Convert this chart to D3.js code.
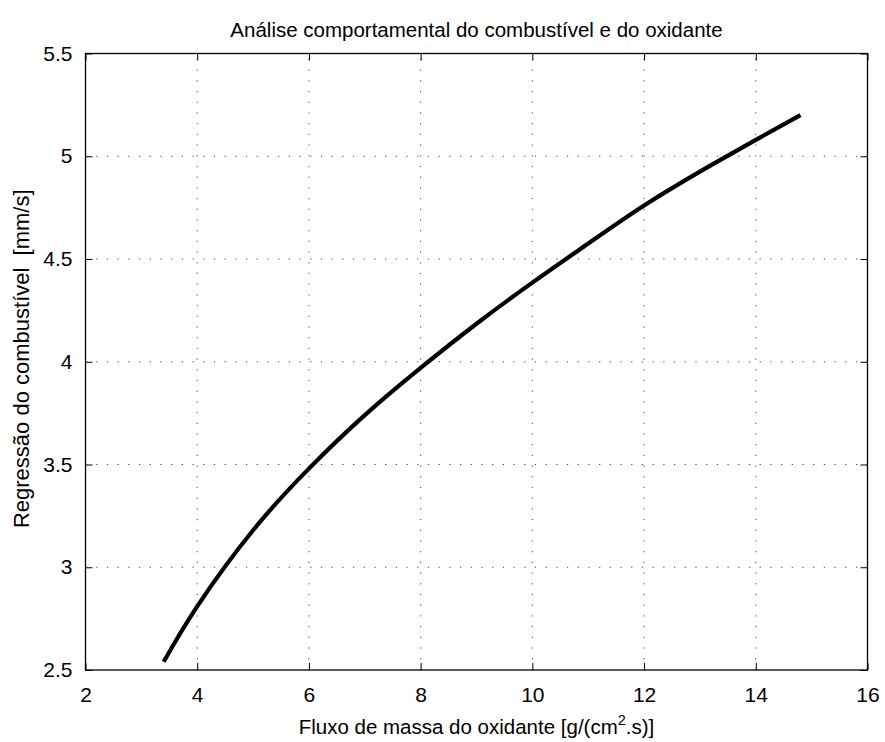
<!DOCTYPE html>
<html><head><meta charset="utf-8">
<script src="https://cdn.jsdelivr.net/npm/d3@7"></script>
<style>body{margin:0;background:#fff}svg{display:block}text{font-family:"Liberation Sans",Arial,sans-serif;fill:#000}</style>
</head><body><svg id="c" width="885" height="742"></svg>
<script>
const fluxo = [3.4, 4, 5, 6, 7, 8, 9, 10, 11, 12, 13, 14, 14.8];
const regressao = [2.54, 2.81, 3.18, 3.48, 3.74, 3.97, 4.185, 4.385, 4.575, 4.76, 4.925, 5.08, 5.2];
const xTicks = [2, 4, 6, 8, 10, 12, 14, 16];
const yTicks = [2.5, 3, 3.5, 4, 4.5, 5, 5.5];

const svg = d3.select("#c");
const L = 85.5, R = 867.5, T = 53.5, B = 670;
const x = d3.scaleLinear().domain([2, 16]).range([L, R]);
const y = d3.scaleLinear().domain([2.5, 5.5]).range([B, T]);

// grid
const g = svg.append("g");
g.selectAll(".gx").data(xTicks.slice(1, -1)).enter().append("line")
  .attr("x1", d => x(d)).attr("x2", d => x(d)).attr("y1", B).attr("y2", T)
  .attr("stroke", "#444").attr("stroke-width", 1).attr("stroke-dasharray", "1.2,9.5");
g.selectAll(".gy").data(yTicks.slice(1, -1)).enter().append("line")
  .attr("y1", d => y(d)).attr("y2", d => y(d)).attr("x1", L).attr("x2", R)
  .attr("stroke", "#444").attr("stroke-width", 1).attr("stroke-dasharray", "1.2,9.5");

// axes with inner ticks
const tl = 7;
const fs = "21px";
const ax = svg.append("g").attr("transform", `translate(0,${B})`)
  .call(d3.axisBottom(x).tickValues(xTicks).tickSize(-tl).tickPadding(tl + 10).tickFormat(d3.format("d")));
const axT = svg.append("g").attr("transform", `translate(0,${T})`)
  .call(d3.axisTop(x).tickValues(xTicks).tickSize(-tl).tickFormat(""));
const ay = svg.append("g").attr("transform", `translate(${L},0)`)
  .call(d3.axisLeft(y).tickValues(yTicks).tickSize(-tl).tickPadding(tl + 6).tickFormat(d => d3.format("")(d)));
const ayR = svg.append("g").attr("transform", `translate(${R},0)`)
  .call(d3.axisRight(y).tickValues(yTicks).tickSize(-tl).tickFormat(""));
[ax, axT, ay, ayR].forEach(a => {
  a.select(".domain").remove();
  a.selectAll("line").attr("stroke", "#000").attr("stroke-width", 1);
  a.selectAll("text").style("font-size", fs).style("font-family", '"Liberation Sans",Arial,sans-serif').attr("fill", "#000");
});
svg.append("rect").attr("x", L).attr("y", T).attr("width", R - L).attr("height", B - T)
  .attr("fill", "none").attr("stroke", "#000").attr("stroke-width", 1.3);

// curve
svg.append("path").datum(fluxo.map((v, i) => [v, regressao[i]]))
  .attr("d", d3.line().x(d => x(d[0])).y(d => y(d[1])).curve(d3.curveNatural))
  .attr("fill", "none").attr("stroke", "#000").attr("stroke-width", 4.2);

// titles
svg.append("text").attr("x", (L + R) / 2).attr("y", 37).attr("text-anchor", "middle")
  .style("font-size", "20.5px").text("Análise comportamental do combustível e do oxidante");
const xl = svg.append("text").attr("x", (L + R) / 2).attr("y", 734).attr("text-anchor", "middle").style("font-size", "20.5px");
xl.append("tspan").text("Fluxo de massa do oxidante [g/(cm");
xl.append("tspan").attr("dy", -9).style("font-size", "14.5px").text("2");
xl.append("tspan").attr("dy", 9).text(".s)]");
svg.append("text").attr("transform", `translate(29,${(T + B) / 2 - 3}) rotate(-90)`).attr("text-anchor", "middle")
  .style("font-size", "22px").style("white-space", "pre").text("Regressão do combustível  [mm/s]");
</script></body></html>
